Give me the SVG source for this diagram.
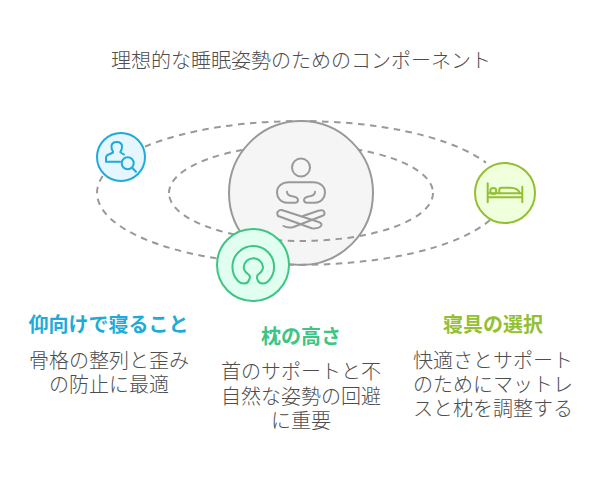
<svg xmlns="http://www.w3.org/2000/svg" width="602" height="482" viewBox="0 0 602 482">
<style>
text{font-family:"Noto Sans CJK JP","Noto Sans CJK SC",sans-serif;font-size:20px;text-anchor:middle;fill:#4d4d4d;font-weight:300}
.h{font-weight:700}
.orbit{fill:none;stroke:#999;stroke-width:2;stroke-dasharray:6.500 5.500}
.ic{fill:none;stroke-width:2;stroke-linecap:round;stroke-linejoin:round}
</style>
<rect width="602" height="482" fill="#fff"/>
<text x="301" y="67.500">理想的な睡眠姿勢のためのコンポーネント</text>
<g id="connectors-back">
<path class="orbit" d="M145 146.600A204 72 0 0 1 486 162.700"/>
<path class="orbit" d="M169 193A132 48 0 0 1 433 193"/>
</g>
<g id="node-center">
<circle cx="301" cy="193" r="72" fill="#f5f5f5" stroke="#999" stroke-width="2"/>
<g class="ic" stroke="#999">
<circle cx="301" cy="167.500" r="9"/>
<path d="M287 191.700Q287 195 291 196Q298 197 298 200Q298 202.700 295 202.700H287C281 202.700 277 198 277 192.500C277 186 282 182.300 289 182.300H313C320 182.300 325 186 325 192.500C325 198 321 202.700 315 202.700H307Q304 202.700 304 200Q304 197 311 196Q315 195 315 191.700"/>
<path d="M281.700 210L318 221.700Q322 223 321.500 225Q320 229 311.700 228.300L278 216Q276.500 213 278 211.500Q279.500 209.500 281.700 210Z"/>
<path d="M303 216L318.300 210.700Q324 209 324.500 213Q325 215 322 216L293.500 227Q288 228.500 283.500 226"/>
</g>
</g>
<g id="connectors-front">
<path class="orbit" d="M433 193A132 48 0 0 1 169 193"/>
<path class="orbit" d="M490 220.100A204 72 0 0 1 289 264.700"/>
<path class="orbit" d="M102.700 176A204 72 0 0 0 216.700 258.400"/>
</g>
<g id="node-back">
<circle cx="121" cy="157" r="24" fill="#e5f6ff" stroke="#1eabda" stroke-width="2"/>
<g class="ic" stroke="#1eabda">
<path d="M120 161.700H106V158Q106 155 110 154L113 152.500V151.500C111.500 150 111.500 148 111.500 146.500C111.500 143.500 114 142 116.800 142C119.600 142 122 143.500 122 146.500C122 148 122 150 120.500 151.500V152.500L124 154.500"/>
<circle cx="127.700" cy="163.300" r="6"/>
<path d="M132.700 168.300L136 171.700"/>
</g>
</g>
<g id="node-pillow">
<circle cx="253" cy="265" r="36" fill="#e0fff0" stroke="#3cc583" stroke-width="2"/>
<path class="ic" stroke="#3cc583" d="M250 277Q250 275.500 248 274C245 272 243.700 270 243.700 267A9.700 9.700 0 0 1 263 267C263 270 261.700 272 258.700 274Q256.700 275.500 257 278Q258 283.500 263 283.500C265 283.500 267 282.500 268.500 281A20.800 20.800 0 1 0 238 281C239.500 282.500 242 283.500 244 283.500Q249 283.500 250 277Z"/>
</g>
<g id="node-bed">
<circle cx="505" cy="193" r="30" fill="#f0ffdc" stroke="#93c032" stroke-width="2"/>
<g class="ic" stroke="#93c032">
<path d="M487.700 183.300V202.300M522.300 186.700V202.300M487.700 193.300H522.300M487.700 197.300H522.300"/>
<circle cx="493.300" cy="191" r="3"/>
<path d="M499.300 193.300V190Q499.300 187.700 501.700 187.700H510Q518 187.700 520 193.300"/>
</g>
</g>
<g id="label-back">
<text class="h" x="108.500" y="332" style="fill:#1eabda">仰向けで寝ること</text>
<text x="109" y="367.500">骨格の整列と歪み</text>
<text x="109" y="392">の防止に最適</text>
</g>
<g id="label-pillow">
<text class="h" x="301" y="344" style="fill:#3cc583">枕の高さ</text>
<text x="301" y="379">首のサポートと不</text>
<text x="301" y="404">自然な姿勢の回避</text>
<text x="301" y="428">に重要</text>
</g>
<g id="label-bed">
<text class="h" x="493" y="332" style="fill:#93c032">寝具の選択</text>
<text x="493" y="367.500">快適さとサポート</text>
<text x="493" y="392">のためにマットレ</text>
<text x="493" y="416">スと枕を調整する</text>
</g>
</svg>
